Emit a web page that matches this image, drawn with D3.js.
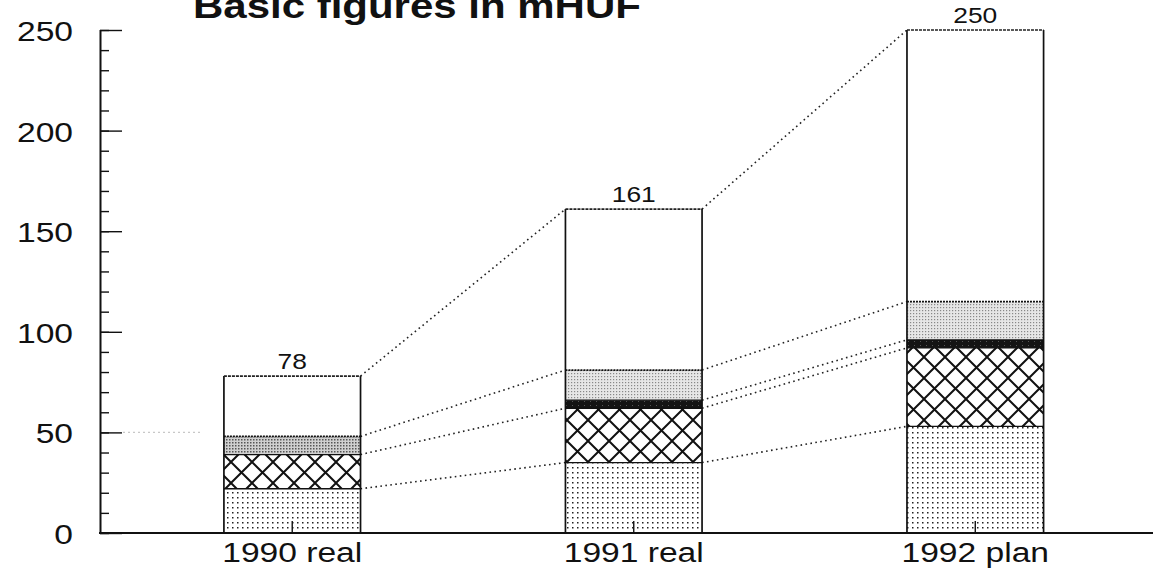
<!DOCTYPE html>
<html>
<head>
<meta charset="utf-8">
<script src="https://cdn.jsdelivr.net/npm/d3@7"></script>
<style>
  html, body { margin: 0; padding: 0; background: #fff; }
  svg { display: block; }
  text { font-family: "Liberation Sans", Arial, Helvetica, sans-serif; fill: #111; }
</style>
</head>
<body>
<svg id="chart" width="1153" height="583"></svg>
<script>
// Basic figures in mHUF — stacked bars, bottom to top
const categories = ["1990 real", "1991 real", "1992 plan"];
const totals     = [78, 161, 250];
const dotted     = [22, 35, 53];
const hatched    = [17, 27, 39];
const dark       = [0, 4, 4];
const shaded     = [9, 15, 19];
const remainder  = [30, 80, 135];
const yTickLabels = [0, 50, 100, 150, 200, 250];
const titleText = "Basic figures in mHUF";

const series = [
  { key: "dotted",    values: dotted,    fill: ["url(#pDots)", "url(#pDots)", "url(#pDots)"] },
  { key: "hatched",   values: hatched,   fill: ["url(#pCross)", "url(#pCross)", "url(#pCross)"] },
  { key: "dark",      values: dark,      fill: ["url(#pDark)", "url(#pDark)", "url(#pDark)"] },
  { key: "shaded",    values: shaded,    fill: ["url(#pGreyDense)", "url(#pGreyLight)", "url(#pGreyLight)"] },
  { key: "remainder", values: remainder, fill: ["#fff", "#fff", "#fff"] }
];

const svg = d3.select("#chart");
const SX = 1.2; // horizontal stretch of lettering

const y = d3.scaleLinear().domain([0, 250]).range([533, 30]);
const x = d3.scaleBand().domain(categories).range([19, 1248.5]).padding(0.6);

// ---- fill patterns ----
const defs = svg.append("defs");
const pDots = defs.append("pattern").attr("id", "pDots").attr("patternUnits", "userSpaceOnUse")
  .attr("width", 5).attr("height", 5);
pDots.append("rect").attr("width", 5).attr("height", 5).attr("fill", "#fff");
pDots.append("rect").attr("x", 2).attr("y", 2).attr("width", 1.5).attr("height", 1.5).attr("fill", "#222");

const pCross = defs.append("pattern").attr("id", "pCross").attr("patternUnits", "userSpaceOnUse")
  .attr("width", 21).attr("height", 21);
pCross.append("rect").attr("width", 21).attr("height", 21).attr("fill", "#fff");
pCross.append("path").attr("d", "M0,0L21,21M21,0L0,21M-2,19L2,23M19,-2L23,2M-2,2L2,-2M19,23L23,19")
  .attr("stroke", "#111").attr("stroke-width", 2).attr("fill", "none");

const pDark = defs.append("pattern").attr("id", "pDark").attr("patternUnits", "userSpaceOnUse")
  .attr("width", 6).attr("height", 4);
pDark.append("rect").attr("width", 6).attr("height", 4).attr("fill", "#141414");
pDark.append("rect").attr("x", 2).attr("y", 1).attr("width", 1).attr("height", 1).attr("fill", "#555");

const pGD = defs.append("pattern").attr("id", "pGreyDense").attr("patternUnits", "userSpaceOnUse")
  .attr("width", 3).attr("height", 3);
pGD.append("rect").attr("width", 3).attr("height", 3).attr("fill", "#d0d0d0");
pGD.append("rect").attr("x", 1).attr("y", 1).attr("width", 1.5).attr("height", 1.5).attr("fill", "#555");

const pGL = defs.append("pattern").attr("id", "pGreyLight").attr("patternUnits", "userSpaceOnUse")
  .attr("width", 3).attr("height", 3);
pGL.append("rect").attr("width", 3).attr("height", 3).attr("fill", "#e6e6e6");
pGL.append("rect").attr("x", 1).attr("y", 1).attr("width", 1.2).attr("height", 1.2).attr("fill", "#888");

// ---- stacked layout ----
const rows = categories.map((c, i) => {
  const r = { cat: c };
  series.forEach(s => { r[s.key] = s.values[i]; });
  return r;
});
const stack = d3.stack().keys(series.map(s => s.key))(rows);

// ---- connector lines between neighbouring bars ----
const conn = svg.append("g").attr("class", "connectors");
for (let i = 0; i < categories.length - 1; i++) {
  stack.forEach((layer, li) => {
    if (layer[i].data[series[li].key] === 0) return;
    const isTop = li === stack.length - 1;
    const v0 = isTop ? totals[i] : layer[i][1];
    const v1 = isTop ? totals[i + 1] : layer[i + 1][1];
    conn.append("line")
      .attr("x1", x(categories[i]) + x.bandwidth()).attr("y1", y(v0))
      .attr("x2", x(categories[i + 1])).attr("y2", y(v1))
      .attr("stroke", "#222").attr("stroke-width", 1.6)
      .attr("stroke-dasharray", "1.6,3.4");
  });
}

// faint dotted guide at 50 next to the axis
svg.append("line")
  .attr("x1", 123).attr("x2", 203).attr("y1", y(50)).attr("y2", y(50))
  .attr("stroke", "#c8c8c8").attr("stroke-width", 1.2).attr("stroke-dasharray", "2,3");

// ---- bars ----
const bars = svg.append("g").attr("class", "bars");
stack.forEach((layer, li) => {
  bars.selectAll(null).data(layer).join("rect")
    .attr("x", d => x(d.data.cat))
    .attr("width", x.bandwidth())
    .attr("y", d => y(d[1]))
    .attr("height", d => y(d[0]) - y(d[1]))
    .attr("fill", (d, i) => series[li].fill[i]);
});

// boundaries between segments
stack.forEach((layer, li) => {
  if (li === stack.length - 1) return;
  bars.selectAll(null).data(layer.filter(d => d[1] > d[0])).join("line")
    .attr("x1", d => x(d.data.cat)).attr("x2", d => x(d.data.cat) + x.bandwidth())
    .attr("y1", d => y(d[1])).attr("y2", d => y(d[1]))
    .attr("stroke", "#111")
    .attr("stroke-width", series[li].key === "shaded" ? 1.8 : 1.3)
    .attr("stroke-dasharray", series[li].key === "shaded" ? "2,1" : null);
});

// bar outlines: solid sides, dotted top
categories.forEach((c, i) => {
  const x0 = x(c), x1 = x(c) + x.bandwidth();
  bars.append("path")
    .attr("d", `M${x0},${y(0)}V${y(totals[i])}M${x1},${y(0)}V${y(totals[i])}`)
    .attr("stroke", "#111").attr("stroke-width", 1.7).attr("fill", "none");
  bars.append("line")
    .attr("x1", x0).attr("x2", x1).attr("y1", y(totals[i])).attr("y2", y(totals[i]))
    .attr("stroke", "#222").attr("stroke-width", 1.7).attr("stroke-dasharray", "3,1");
  // centre tick
  bars.append("line")
    .attr("x1", x0 + x.bandwidth() / 2).attr("x2", x0 + x.bandwidth() / 2)
    .attr("y1", y(0)).attr("y2", y(0) - 12)
    .attr("stroke", "#111").attr("stroke-width", 1.4);
});

// ---- axes ----
const minor = d3.axisRight(y).tickValues(d3.range(0, 251, 10)).tickSize(9).tickFormat("");
const major = d3.axisRight(y).tickValues(yTickLabels).tickSize(22).tickFormat("");
const gMinor = svg.append("g").attr("transform", "translate(100,0)").call(minor);
const gMajor = svg.append("g").attr("transform", "translate(100,0)").call(major);
[gMinor, gMajor].forEach(g => {
  g.select(".domain").attr("stroke", "#111").attr("stroke-width", 2);
  g.selectAll(".tick line").attr("stroke", "#111").attr("stroke-width", 1.4);
});
gMajor.select(".domain").remove();
gMinor.select(".domain").attr("d", `M0.5,${y(250)}V${y(0)}`);

// x baseline
svg.append("line").attr("x1", 99).attr("x2", 1153).attr("y1", y(0)).attr("y2", y(0))
  .attr("stroke", "#111").attr("stroke-width", 2);

// ---- text ----
function stretched(g, tx, ty, anchor, size, weight, str) {
  g.append("text")
    .attr("transform", `translate(${tx},${ty}) scale(${SX},1)`)
    .attr("text-anchor", anchor)
    .attr("font-size", size)
    .attr("font-weight", weight)
    .text(str);
}
const tg = svg.append("g").attr("class", "labels");
yTickLabels.forEach(v => stretched(tg, 73, y(v) + 11, "end", 28, "normal", v));
categories.forEach(c => stretched(tg, x(c) + x.bandwidth() / 2, 562, "middle", 28, "normal", c));
categories.forEach((c, i) => stretched(tg, x(c) + x.bandwidth() / 2, y(totals[i]) - 7, "middle", 22, "normal", totals[i]));
stretched(tg, 193, 18, "start", 35, "bold", titleText);
</script>
</body>
</html>
